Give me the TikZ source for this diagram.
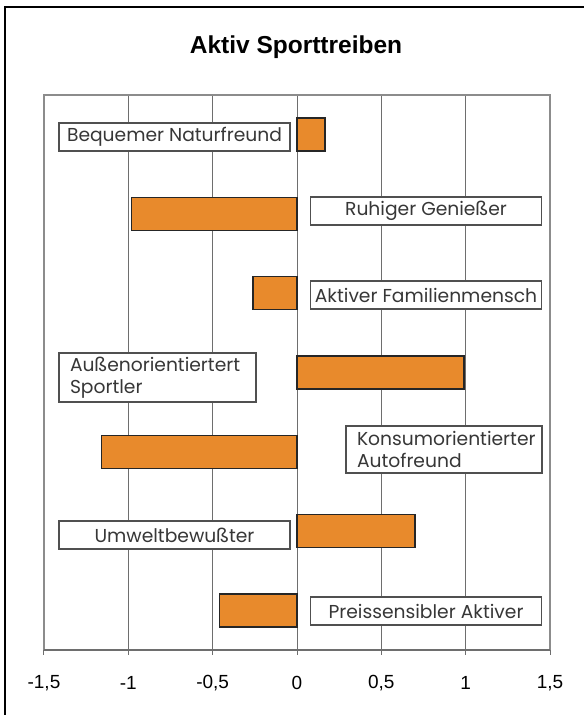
\documentclass[tikz,border=0pt]{standalone}
\usepackage{fontspec}
\setmainfont{Liberation Sans}
\newfontfamily\labelfont{Poppins}
\definecolor{barorange}{RGB}{232,138,44}
\definecolor{gridgray}{RGB}{110,110,110}
\definecolor{framegray}{RGB}{140,140,140}
\definecolor{boxgray}{RGB}{80,80,80}
\definecolor{textgray}{RGB}{55,55,55}
\tikzset{
  barbox/.style={fill=barorange,draw=black!85,line width=1.5pt},
  labelbox/.style={draw=boxgray,fill=white,line width=1.1pt,inner sep=0pt,
    text=textgray,font=\labelfont\fontsize{18.7}{22}\selectfont},
  ticklabel/.style={font=\fontsize{19}{21}\selectfont}
}
\newcommand{\xval}[1]{297+168.7*(#1)}

\begin{document}
\begin{tikzpicture}[x=1pt,y=-1pt]
\useasboundingbox (0,0) rectangle (584,715);
\draw[line width=2.5pt] (5,715) -- (5,7) -- (584,7);
\node (title) at (296,47) {\fontsize{24.5}{28}\selectfont\bfseries Aktiv Sporttreiben};

% grid and value axis
\foreach \v/\t [count=\i] in {-1.5/{-1,5},-1/{-1},-0.5/{-0,5},0/0,0.5/{0,5},1/1,1.5/{1,5}} {
    \draw[gridgray,line width=1pt] ({\xval{\v}},95) -- ({\xval{\v}},655);
    \node[ticklabel] (tick\i) at ({\xval{\v}},683) {\t};
}
\draw[framegray,line width=1.6pt] (44,650) -- (44,95) -- (550,95) -- (550,650);
\draw[gridgray,line width=1.3pt] (44,650) -- (550,650);

% bars
\foreach \v [count=\i] in {0.166,-0.98,-0.26,0.99,-1.16,0.70,-0.46}
    \draw[barbox] (297,{134.6+79.3*(\i-1)-16.5}) rectangle ({\xval{\v}},{134.6+79.3*(\i-1)+16.5});

% labels
\begin{scope}[every node/.style={labelbox,minimum height=28pt,minimum width=231pt}]
    \node (bequem) at (174.5,137) {Bequemer Naturfreund};
    \node (ruhig) at (426,211) {Ruhiger Genießer};
    \node (familie) at (426,295) {Aktiver Familienmensch};
    \node (umwelt) at (174.5,535) {Umweltbewußter};
    \node (preis) at (426,611) {Preissensibler Aktiver};
\end{scope}
\begin{scope}[every node/.style={labelbox,align=left,inner xsep=11pt}]
    \node[text width=175pt,minimum height=49pt] (aussen) at (157.5,377.5) {Außenorientiertert\\Sportler};
    \node[text width=174pt,minimum height=47pt] (konsum) at (444,449.5) {Konsumorientierter\\Autofreund};
\end{scope}
\end{tikzpicture}
\end{document}
